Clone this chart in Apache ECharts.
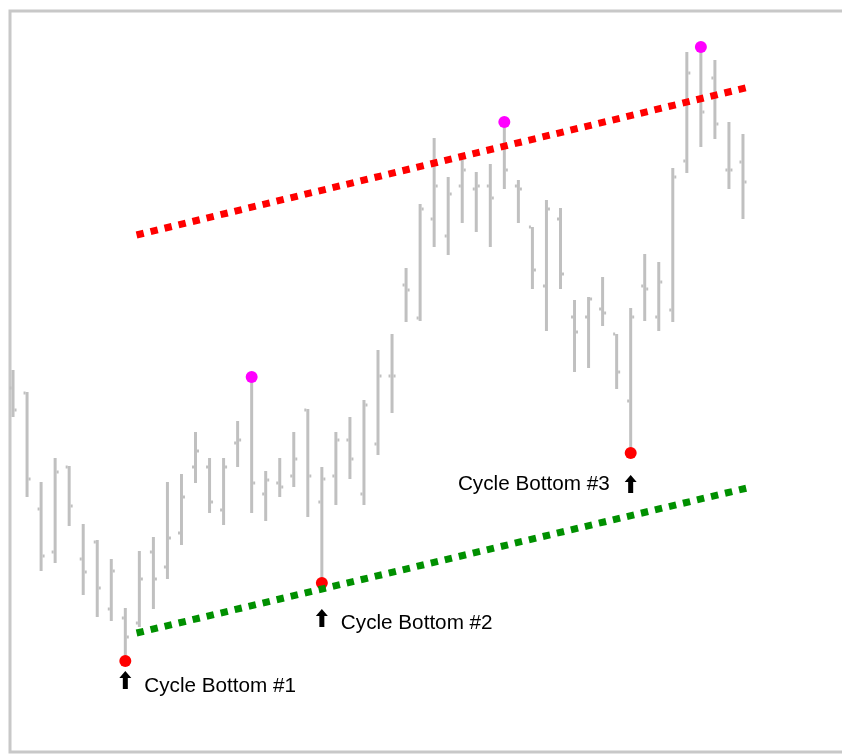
<!DOCTYPE html>
<html>
<head>
<meta charset="utf-8">
<script src="https://cdn.jsdelivr.net/npm/echarts@6/dist/echarts.min.js"></script>
<style>
  html, body { margin: 0; padding: 0; background: #fff; }
  #chart { width: 842px; height: 754px; }
</style>
</head>
<body>
<div id="chart"></div>
<script>
// price levels (screen units, larger = lower on chart)
const opens  = [388, 393, 509, 552, 467, 559, 542, 609, 618, 623, 552, 567, 533, 467, 467, 510, 443, 378, 494, 483, 476, 410, 502, 476, 440, 494, 444,
                376, 285, 318, 219, 236, 186, 189, 186, 125, 186, 227, 286, 219, 317, 317, 309, 334, 401, 286, 317, 310, 161, 50, 78, 170, 162]
const highs  = [370, 392, 482, 458, 466, 524, 540, 559, 608, 551, 537, 482, 474, 432, 458, 458, 421, 377, 471, 458, 432, 409, 467, 432, 417, 400, 350,
                334, 268, 204, 138, 177, 160, 172, 164, 122, 180, 227, 200, 208, 300, 297, 277, 334, 308, 254, 262, 168, 52, 47, 60, 122, 134]
const lows   = [417, 497, 571, 563, 526, 595, 617, 621, 661, 627, 609, 579, 545, 483, 513, 525, 467, 513, 521, 497, 487, 517, 583, 505, 479, 505, 455,
                413, 322, 321, 247, 255, 223, 232, 247, 189, 223, 289, 331, 289, 372, 368, 326, 389, 453, 321, 331, 322, 173, 147, 139, 189, 219]
const closes = [410, 479, 556, 472, 506, 572, 588, 571, 637, 579, 579, 538, 497, 451, 502, 467, 440, 483, 480, 487, 459, 476, 479, 440, 459, 405, 376,
                376, 290, 209, 186, 194, 170, 186, 198, 170, 189, 270, 209, 274, 332, 299, 313, 372, 317, 289, 282, 177, 73, 112, 124, 170, 182]

// swing highs / cycle bottoms (bar index)
const topBars = [17, 35, 49]
const bottomBars = [8, 22, 44]
const bottomLabels = ['Cycle Bottom #1', 'Cycle Bottom #2', 'Cycle Bottom #3']
const arrowLevels = [680, 618, 484]

// trend lines: two end points each
const trendX = [8.8, 52.3]
const upperTrend = [235, 87.5]
const lowerTrend = [633, 488]

const ohlcData = opens.map((o, i) => [i, o, highs[i], lows[i], closes[i]])
const topData = topBars.map(i => [i, highs[i]])
const bottomData = bottomBars.map(i => [i, lows[i]])
const labelShift = [6, 5, 0]
const arrowData = bottomBars.map((i, k) => ({
  value: [i, arrowLevels[k]],
  label: {
    formatter: bottomLabels[k],
    position: k === 2 ? 'left' : 'right',
    distance: k === 2 ? 15 : 13,
    offset: [0, labelShift[k]]
  }
}))

const barColor = '#c0c0c0'

function renderOhlc(params, api) {
  const x = api.coord([api.value(0), 0])[0]
  const o = api.coord([0, api.value(1)])[1]
  const h = api.coord([0, api.value(2)])[1]
  const l = api.coord([0, api.value(3)])[1]
  const c = api.coord([0, api.value(4)])[1]
  const st = { fill: barColor }
  return {
    type: 'group',
    children: [
      { type: 'rect', shape: { x: x - 1.5, y: h, width: 3, height: l - h }, style: st },
      { type: 'rect', shape: { x: x - 3.5, y: o - 1.5, width: 2, height: 3 }, style: st },
      { type: 'rect', shape: { x: x + 1.5, y: c - 1.5, width: 2, height: 3 }, style: st }
    ]
  }
}

const chart = echarts.init(document.getElementById('chart'))
chart.setOption({
  animation: false,
  backgroundColor: '#fff',
  grid: { left: 6, right: 92, top: 0, bottom: 0 },
  xAxis: { type: 'value', min: -0.5, max: 52.5, show: false },
  yAxis: { type: 'value', min: 0, max: 754, inverse: true, show: false },
  graphic: [{
    type: 'polyline',
    shape: { points: [[842, 11], [10, 11], [10, 752], [842, 752]] },
    style: { stroke: '#c8c8c8', lineWidth: 3, fill: null },
    silent: true
  }],
  series: [
    {
      name: 'bars',
      type: 'custom',
      renderItem: renderOhlc,
      data: ohlcData,
      z: 1
    },
    {
      name: 'tops',
      type: 'scatter',
      data: topData,
      symbol: 'circle',
      symbolSize: 12,
      itemStyle: { color: '#ff00ff', opacity: 1 },
      z: 2
    },
    {
      name: 'bottoms',
      type: 'scatter',
      data: bottomData,
      symbol: 'circle',
      symbolSize: 12,
      itemStyle: { color: '#ff0000', opacity: 1 },
      z: 2
    },
    {
      name: 'upper',
      type: 'line',
      data: trendX.map((x, i) => [x, upperTrend[i]]),
      showSymbol: false,
      lineStyle: { color: '#ff0000', width: 7, type: [7.4, 7], cap: 'butt' },
      z: 3
    },
    {
      name: 'lower',
      type: 'line',
      data: trendX.map((x, i) => [x, lowerTrend[i]]),
      showSymbol: false,
      lineStyle: { color: '#009000', width: 7, type: [7.4, 7], cap: 'butt' },
      z: 3
    },
    {
      name: 'arrows',
      type: 'scatter',
      data: arrowData,
      symbol: 'path://M6,0 L12,7 L8.5,7 L8.5,18 L3.5,18 L3.5,7 L0,7 Z',
      symbolSize: [12, 18],
      itemStyle: { color: '#000', opacity: 1 },
      label: {
        show: true,
        color: '#000',
        fontFamily: 'Liberation Sans, Arial, sans-serif',
        fontSize: 20.7
      },
      z: 4
    }
  ]
})
</script>
</body>
</html>
